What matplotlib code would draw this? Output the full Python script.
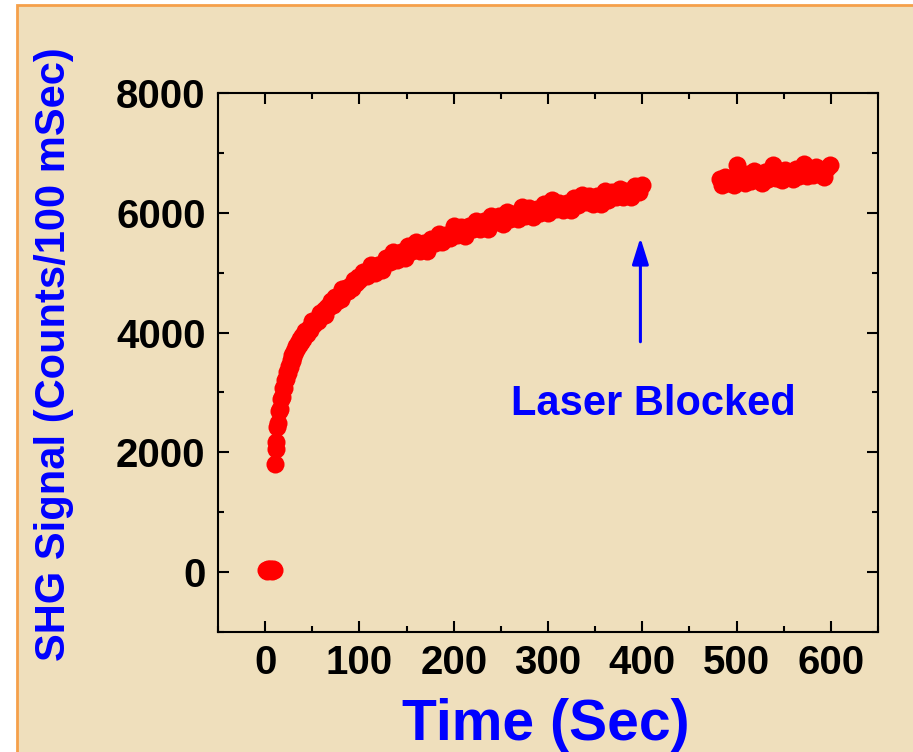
import matplotlib
matplotlib.use('Agg')
import matplotlib.pyplot as plt
from matplotlib.patches import Rectangle
from matplotlib.ticker import MultipleLocator

# Dados (tempo em s, sinal SHG em contagens/100 ms)
t_antes = [1, 2, 3, 4, 5, 6, 7, 8, 9]
v_antes = [40, 20, 50, 30, 60, 40, 20, 50, 30]

t_subida = list(range(10, 41))
v_subida = [1800, 2050, 2180, 2420, 2490, 2690, 2730, 2890, 2920, 3070, 3080,
            3210, 3220, 3340, 3330, 3440, 3430, 3540, 3520, 3630, 3600, 3700,
            3680, 3770, 3740, 3830, 3800, 3890, 3850, 3940, 3900]

t_meio = list(range(42, 101, 2))
v_meio = [4030, 3980, 4080, 4040, 4200, 4140, 4210, 4190, 4330, 4280,
          4370, 4300, 4430, 4420, 4520, 4460, 4590, 4530, 4610, 4560,
          4720, 4660, 4750, 4690, 4780, 4750, 4880, 4820, 4920, 4880]

t_lento = list(range(104, 401, 4))
v_lento = [5010, 4950, 5130, 5000, 5130, 5050, 5250, 5180, 5350, 5210,
           5340, 5240, 5440, 5370, 5510, 5360, 5490, 5370, 5570, 5490,
           5650, 5510, 5630, 5580, 5780, 5630, 5770, 5620, 5780, 5730,
           5870, 5730, 5870, 5730, 5940, 5850, 5950, 5810, 6020, 5900,
           5980, 5890, 6090, 5940, 6080, 5930, 6060, 6000, 6150, 6000,
           6210, 6060, 6170, 6040, 6170, 6040, 6250, 6130, 6290, 6180,
           6280, 6150, 6280, 6150, 6370, 6210, 6340, 6270, 6400, 6260,
           6360, 6260, 6450, 6340, 6460]

t_depois = list(range(482, 600, 3))
v_depois = [6560, 6470, 6600, 6500, 6580, 6460, 6800, 6540, 6610, 6490,
            6640, 6530, 6700, 6560, 6640, 6500, 6680, 6560, 6660, 6800,
            6580, 6690, 6550, 6720, 6600, 6680, 6570, 6730, 6620, 6700,
            6820, 6610, 6720, 6630, 6760, 6640, 6710, 6600, 6740, 6800]

x_ticks = [0, 100, 200, 300, 400, 500, 600]
y_ticks = [0, 2000, 4000, 6000, 8000]

plt.rcParams['font.family'] = ['Liberation Sans', 'DejaVu Sans']
plt.rcParams['font.weight'] = 'bold'

fundo = '#EFDFBC'
azul = '#0000FF'
vermelho = '#FF0000'

fig = plt.figure(figsize=(9.13, 7.52), dpi=100, facecolor='white')
fig.patches.append(Rectangle((17 / 913, -0.05), 1.1, 1.05 - 5 / 752,
                             transform=fig.transFigure, facecolor=fundo,
                             edgecolor='#F5A04A', linewidth=2, zorder=-10))

ax = fig.add_axes([218 / 913, 1 - 632 / 752, 660 / 913, 539 / 752])
ax.set_facecolor('none')
ax.set_zorder(5)

t_todos = t_antes + t_subida + t_meio + t_lento + t_depois
v_todos = v_antes + v_subida + v_meio + v_lento + v_depois
ax.plot(t_todos, v_todos, 'o', color=vermelho, markersize=13,
        markeredgewidth=0, zorder=3)

ax.set_xlim(-50, 650)
ax.set_ylim(-1000, 8000)
ax.set_xticks(x_ticks)
ax.set_yticks(y_ticks)
ax.xaxis.set_minor_locator(MultipleLocator(50))
ax.yaxis.set_minor_locator(MultipleLocator(1000))
ax.tick_params(which='both', direction='in', top=True, right=True, width=1.5)
ax.tick_params(which='major', length=8, labelsize=29, pad=9)
ax.tick_params(which='minor', length=4)
for lbl in ax.get_xticklabels() + ax.get_yticklabels():
    lbl.set_fontweight('bold')
for sp in ax.spines.values():
    sp.set_linewidth(1.5)

ax.annotate('', xy=(398, 5630), xytext=(398, 3800),
            arrowprops=dict(arrowstyle='-|>,head_length=0.8,head_width=0.25',
                            color=azul, lw=2.2, mutation_scale=20))
ax.text(412, 2800, 'Laser Blocked', color=azul, fontsize=30,
        fontweight='bold', ha='center', va='center')

fig.text(546 / 913, 1 - 725 / 752, 'Time (Sec)', color=azul, fontsize=41,
         fontweight='bold', ha='center', va='center')
fig.text(54 / 913, 1 - 354 / 752, 'SHG Signal (Counts/100 mSec)', color=azul,
         fontsize=30, fontweight='bold', rotation=90, ha='center', va='center')

fig.savefig('out.png', dpi=100, facecolor=fig.get_facecolor())
plt.close(fig)
